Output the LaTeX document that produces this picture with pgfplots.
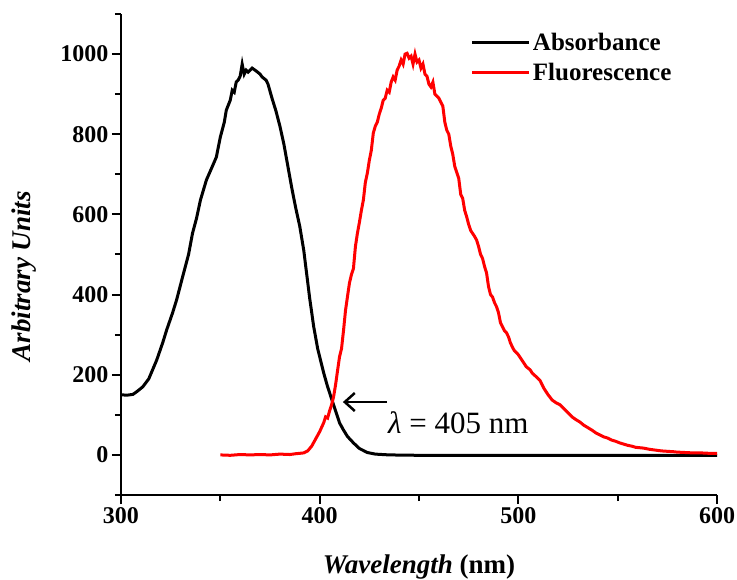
\documentclass[border=0pt]{standalone}
\usepackage{fontspec}
\setmainfont{Liberation Serif}
\usepackage{pgfplots}
\pgfplotsset{compat=1.18}
\usetikzlibrary{arrows.meta}
\newcommand{\bigfnt}{\fontsize{25bp}{30bp}\selectfont}
\newcommand{\tickfnt}{\fontsize{24bp}{29bp}\selectfont}
\newcommand{\labfnt}{\fontsize{27bp}{32bp}\selectfont}
\begin{document}
\begin{tikzpicture}
\begin{axis}[
  name=ax,
  scale only axis,
  width=596bp, height=481bp,
  xmin=300, xmax=600, ymin=-100, ymax=1100,
  axis x line*=bottom, axis y line*=left,
  axis line style={line width=2bp, -},
  xtick={300,400,500,600},
  minor xtick={350,450,550},
  ytick={0,200,400,600,800,1000},
  minor ytick={-100,100,300,500,700,900,1100},
  tick align=outside,
  major tick length=9bp, minor tick length=6bp,
  every tick/.style={line width=2bp, black},
  /pgf/number format/assume math mode=true,
  /pgf/number format/1000 sep={},
  tick label style={font=\tickfnt\bfseries},
  xlabel={\textbf{\textit{Wavelength} (nm)}},
  ylabel={\textbf{\textit{Arbitrary Units}}},
  label style={font=\labfnt},
  xlabel style={at={(axis description cs:0.5,-0.150)}, anchor=center},
  ylabel style={at={(axis description cs:-0.163,0.455)}, anchor=center, rotate=0},
  legend style={at={(axis description cs:0.586,0.965)}, anchor=north west, draw=none, fill=none,
    font=\bigfnt\bfseries, inner sep=0pt, row sep=7bp, nodes={inner sep=2bp}},
  legend cell align=left,
  legend image code/.code={\draw[#1, line width=3.5bp] (0bp,0bp) -- (57bp,0bp);},
  clip=false,
]
\addplot[black, line width=3bp] coordinates {
(300,150) (303,149) (306,151) (308,158) (311,170) (314,190) (318,237) (321,280)
(323,312) (326,355) (328,387) (331,444) (334,500) (336,553) (338,590) (340,636)
(343,686) (346,720) (348,743) (350,793) (352,830) (353,860) (355,885) (356,910)
(357,905) (358,930) (359,935) (360,945) (361,975) (362,950) (363,960) (364,955)
(366,965) (368,958) (370,950) (371,943) (373,935) (374,925) (376,890) (378,858)
(380,820) (382,775) (384,720) (386,665) (388,615) (390,570) (392,510) (394,430)
(395,390) (397,320) (399,265) (400,245) (402,205) (404,170) (406,140) (408,110)
(410,80) (412,62) (414,46) (417,30) (420,16) (424,6) (428,2) (435,0)
(450,-1) (500,-1) (550,-1) (600,-1)
};
\addlegendentry{Absorbance}
\addplot[red, line width=3bp] coordinates {
(350,0) (355,-1) (360,1) (365,0) (370,1) (375,0) (380,2) (385,1) (388,3) (390,4)
(392,5) (394,10) (396,22) (398,40) (400,58) (402,80) (403,95) (404,92) (405,110)
(406,125) (407,145) (408,175) (409,210) (410,245) (411,265) (412,310) (413,360)
(414,395) (415,429) (416,450) (417,465) (418,520) (419,553) (420,580) (421,610)
(422,636) (423,680) (424,703) (425,735) (426,760) (427,803) (428,820) (429,830)
(430,850) (431,865) (432,885) (433,890) (434,910) (435,905) (436,930) (437,943)
(438,935) (439,960) (440,970) (441,985) (442,975) (443,1000) (444,1002) (445,990)
(446,995) (447,975) (448,1000) (449,980) (450,985) (451,965) (452,975) (453,950)
(454,945) (455,925) (456,918) (457,930) (458,900) (459,895) (460,890) (461,880)
(462,870) (463,830) (464,810) (465,800) (466,770) (467,750) (468,720) (469,705)
(470,690) (471,650) (472,640) (473,610) (474,594) (475,575) (476,560) (478,545)
(479,536) (480,520) (481,500) (482,490) (483,470) (484,454) (485,420) (486,400)
(487,394) (488,380) (489,370) (490,355) (491,330) (492,320) (493,310) (494,305)
(495,295) (496,280) (497,269) (498,260) (500,250) (502,235) (504,220) (506,212)
(507,204) (509,195) (511,185) (513,165) (515,150) (517,137) (519,130) (521,125)
(523,115) (525,105) (527,95) (529,88) (531,82) (533,74) (535,68) (537,62)
(539,55) (541,50) (543,45) (545,42) (547,37) (549,34) (551,30) (553,27)
(555,24) (557,22) (559,19) (561,18) (563,17) (566,14) (569,12) (572,10)
(575,9) (578,8) (580,7) (584,6) (588,5) (592,5) (596,4) (600,4)
};
\addlegendentry{Fluorescence}
\draw[line width=2.5bp, -{Straight Barb[length=10bp, width=18bp]}] (axis cs:433.9,132) -- (axis cs:411.7,132);
\node[anchor=west, inner sep=0pt] at (axis cs:434.4,80) {\fontsize{31bp}{36bp}\selectfont\textit{λ} = 405 nm};
\end{axis}
\pgfresetboundingbox
\path (ax.south west) ++(-121bp,-85bp) coordinate (bbsw);
\path (ax.south west) ++(616bp,495bp) coordinate (bbne);
\useasboundingbox (bbsw) rectangle (bbne);
\end{tikzpicture}
\end{document}
